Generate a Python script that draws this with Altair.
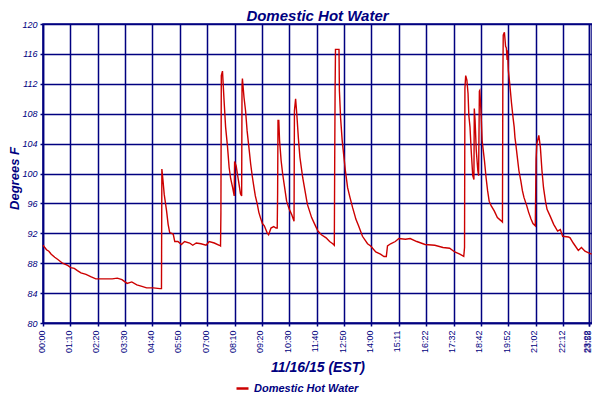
import altair as alt
import pandas as pd

# readings: (axis minute position, degrees F)
night = [(0, 90.4), (9, 89.8), (15, 89.6), (21, 89.2), (30, 88.8), (38, 88.5), (50, 88.0),
         (63, 87.7), (71, 87.4), (80, 87.3), (88, 87.0), (97, 86.7), (110, 86.5), (122, 86.2),
         (135, 85.9), (143, 85.9), (160, 85.9), (177, 85.9), (190, 86.0), (202, 85.8), (215, 85.3),
         (227, 85.5), (240, 85.1), (253, 84.9), (265, 84.7), (282, 84.7), (299, 84.6), (303, 84.6),
         (304, 100.6), (307, 99.0), (310, 97.2), (316, 95.0), (320, 93.2), (324, 92.1), (333, 91.9),
         (337, 90.9), (345, 90.9), (354, 90.5), (362, 90.9), (375, 90.7), (383, 90.4), (392, 90.7),
         (404, 90.6), (417, 90.4), (425, 90.9), (438, 90.7), (451, 90.4), (454, 90.3)]

morning = [(455, 94.8), (456, 113.1), (459, 113.7), (463, 109.8), (467, 106.2), (472, 103.5),
           (476, 100.8), (480, 99.3), (485, 98.1), (489, 97.0), (490, 101.6), (494, 101.0),
           (500, 99.0), (505, 97.3), (508, 97.0), (509, 111.8), (510, 112.7), (514, 110.2),
           (518, 108.4), (522, 105.7), (527, 103.3), (531, 101.3), (535, 99.7), (539, 98.3),
           (543, 97.0), (548, 95.9), (552, 94.8), (556, 94.1), (561, 93.3), (566, 93.0),
           (573, 92.1), (577, 91.8), (583, 92.7), (590, 92.9), (596, 92.7), (599, 92.7),
           (600, 97.3), (601, 107.1), (603, 107.1), (605, 104.4), (609, 101.7), (613, 99.9),
           (618, 98.1), (623, 96.3), (630, 95.2), (636, 94.5), (642, 93.6), (643, 108.4),
           (646, 110.0), (649, 108.0), (653, 104.8), (657, 102.2), (664, 99.5), (670, 97.7),
           (676, 95.9), (687, 94.1), (695, 93.2), (703, 92.3), (712, 91.8), (724, 91.4),
           (733, 90.9), (741, 90.6), (745, 90.4)]

midday = [(746, 101.7), (747, 111.1), (748, 116.6), (757, 116.6), (758, 111.1), (761, 107.5),
          (765, 104.5), (769, 102.5), (773, 100.5), (779, 98.1), (785, 96.8), (792, 95.4),
          (798, 94.3), (800, 93.9), (807, 93.0), (817, 91.6), (830, 90.6), (838, 90.3),
          (851, 89.5), (863, 89.2), (872, 88.9), (878, 88.9), (881, 90.3), (889, 90.6),
          (901, 90.9), (910, 91.3), (927, 91.2), (939, 91.3), (956, 90.9), (977, 90.5),
          (1002, 90.4), (1023, 90.1), (1040, 90.0), (1053, 89.5), (1066, 89.2), (1076, 88.9),
          (1078, 90.1)]

evening = [(1079, 111.4), (1081, 113.1), (1084, 112.5), (1087, 110.7), (1089, 107.8),
           (1092, 106.2), (1095, 103.1), (1099, 99.7), (1102, 99.2), (1103, 108.7), (1105, 107.1),
           (1108, 103.1), (1112, 100.4), (1114, 99.7), (1116, 111.0), (1117, 111.1), (1120, 108.4),
           (1123, 104.4), (1129, 101.7), (1133, 99.5), (1137, 97.7), (1141, 96.3), (1146, 95.7),
           (1154, 95.0), (1162, 94.1), (1171, 93.7), (1175, 93.5), (1176, 112.7), (1177, 118.5),
           (1180, 118.9), (1183, 117.0), (1185, 116.8), (1187, 115.2), (1188, 116.5), (1190, 113.8),
           (1194, 111.8), (1198, 109.5), (1202, 107.5), (1205, 106.2), (1207, 104.8), (1209, 104.0),
           (1213, 102.2), (1217, 100.4), (1222, 99.0), (1226, 97.7), (1230, 96.8), (1237, 95.7),
           (1242, 94.8), (1248, 93.9), (1253, 93.3), (1259, 93.0), (1261, 101.9), (1263, 104.0),
           (1268, 105.1), (1272, 103.5), (1276, 100.4), (1280, 98.1), (1285, 96.3), (1289, 95.2),
           (1297, 94.3), (1306, 93.2), (1316, 92.3), (1323, 92.5), (1329, 91.6), (1344, 91.5),
           (1348, 91.4), (1356, 90.7), (1369, 89.7), (1377, 90.1), (1386, 89.6), (1394, 89.4),
           (1403, 89.2)]

tick_values = [0, 70, 140, 210, 280, 350, 420, 490, 560, 630, 700, 770, 840, 910, 980,
               1050, 1120, 1190, 1260, 1330, 1396, 1397]
tick_labels = ["00:00", "01:10", "02:20", "03:30", "04:40", "05:50", "07:00", "08:10", "09:20",
               "10:30", "11:40", "12:50", "14:00", "15:11", "16:22", "17:32", "18:42", "19:52",
               "21:02", "22:12", "23:22", "23:58"]
y_ticks = [80, 84, 88, 92, 96, 100, 104, 108, 112, 116, 120]
series_name = "Domestic Hot Water"

df = pd.DataFrame(night + morning + midday + evening, columns=["minute", "temp"])
df["series"] = series_name

navy = "#000080"
red = "#cc0000"
label_js = "[" + ",".join("'" + s + "'" for s in tick_labels) + "]"
vals_js = "[" + ",".join(str(v) for v in tick_values) + "]"

chart = alt.Chart(df).mark_line(strokeWidth=1.4, interpolate="linear").encode(
    x=alt.X("minute:Q",
            scale=alt.Scale(domain=[0, 1404], nice=False, zero=False),
            axis=alt.Axis(values=tick_values,
                          labelExpr=f"{label_js}[indexof({vals_js}, datum.value)]",
                          labelAngle=270, labelAlign="right", labelBaseline="alphabetic",
                          labelOffset=1,
                          labelFont="Liberation Sans", labelFontSize=9, labelColor=navy,
                          labelOverlap=False, labelFlush=False, labelPadding=4,
                          tickSize=3, tickColor=navy, tickWidth=1.5,
                          domainColor=navy, domainWidth=1.5,
                          grid=True, gridColor=navy, gridWidth=1.5, gridOpacity=1,
                          title="11/16/15 (EST)", titleFont="Liberation Sans", titleFontSize=14,
                          titleFontStyle="italic", titleFontWeight="bold", titleColor=navy,
                          titleY=44, titleBaseline="middle")),
    y=alt.Y("temp:Q",
            scale=alt.Scale(domain=[80, 120], nice=False, zero=False),
            axis=alt.Axis(values=y_ticks, labelFont="Liberation Sans", labelFontSize=9,
                          labelFontStyle="italic", labelColor=navy, labelPadding=3,
                          tickSize=3, tickColor=navy, tickWidth=1.5,
                          domainColor=navy, domainWidth=1.5,
                          grid=True, gridColor=navy, gridWidth=1.5, gridOpacity=1,
                          title="Degrees F", titleFont="Liberation Sans", titleFontSize=13,
                          titleFontStyle="italic", titleFontWeight="bold", titleColor=navy,
                          titleAngle=270, titleX=-29, titleY=154, titleAlign="center",
                          titleBaseline="middle")),
    color=alt.Color("series:N",
                    scale=alt.Scale(domain=[series_name], range=[red]),
                    legend=alt.Legend(title=None, orient="none", legendX=192, legendY=357,
                                      symbolType="stroke", symbolSize=144, symbolStrokeWidth=2.5,
                                      labelFont="Liberation Sans", labelFontSize=11,
                                      labelFontStyle="italic", labelFontWeight="bold",
                                      labelColor=navy, labelOffset=4))
).properties(
    width=549, height=299,
    autosize=alt.AutoSizeParams(type="none"),
    padding={"left": 35, "top": 16, "right": 0, "bottom": 69},
    title=alt.TitleParams("Domestic Hot Water", font="Liberation Sans", fontSize=15,
                          fontStyle="italic", fontWeight="bold", color=navy,
                          anchor="middle", frame="group", offset=-4)
).configure_view(stroke=navy, strokeWidth=1.5)

chart.save("out.html", embed_options={"renderer": "svg", "actions": False})
